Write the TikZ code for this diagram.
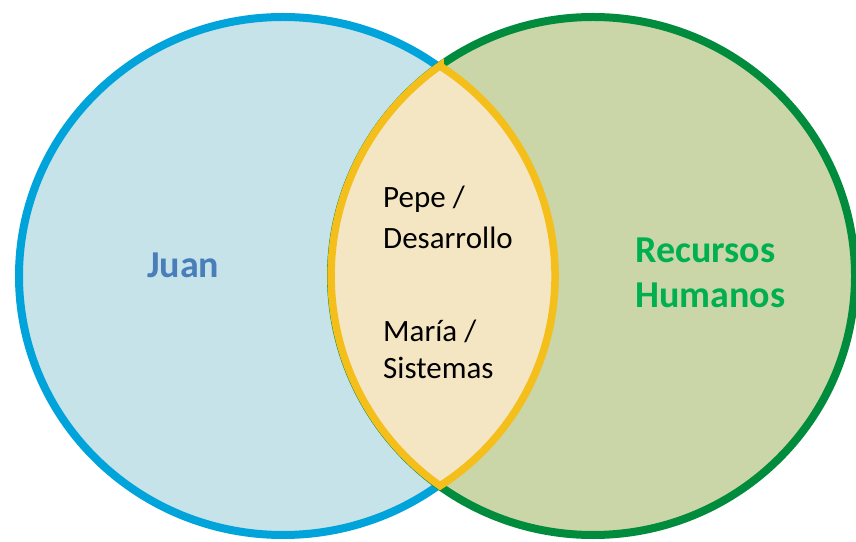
\documentclass[tikz,border=0pt]{standalone}
\usepackage{fontspec}
\setmainfont{Carlito}
\definecolor{bluestroke}{HTML}{00A3DA}
\definecolor{bluefill}{HTML}{C5E3E8}
\definecolor{greenstroke}{HTML}{008C3C}
\definecolor{greenfill}{HTML}{CAD6A8}
\definecolor{yellowstroke}{HTML}{F4BE1B}
\definecolor{lensfill}{HTML}{F5E6C3}
\definecolor{juancol}{HTML}{4A7EBB}
\definecolor{rhcol}{HTML}{00B050}
\tikzset{
  setlabel/.style={inner sep=0pt, anchor=base west, font=\fontsize{38}{45}\selectfont\bfseries},
  itemlabel/.style={inner sep=0pt, anchor=base west, font=\fontsize{31}{41}\selectfont, text=black},
}
\begin{document}
\begin{tikzpicture}[x=1pt,y=1pt]
\useasboundingbox (0,0) rectangle (856,541);
% left set
\draw[line width=8pt, draw=bluestroke, fill=bluefill] (283,265) ellipse [x radius=264, y radius=259];
% right set
\draw[line width=8pt, draw=greenstroke, fill=greenfill] (593,265) ellipse [x radius=262, y radius=259];
% intersection lens
\draw[line width=7.5pt, draw=yellowstroke, fill=lensfill, line join=miter]
  (440,475) arc[start angle=57.46, end angle=-57.46, radius=249]
  arc[start angle=234.82, end angle=125.18, radius=257] -- cycle;
% labels
\node[setlabel, text=juancol] (juan) at (147,263) {Juan};
\node[setlabel, text=rhcol] (rh1) at (635,278) {Recursos};
\node[setlabel, text=rhcol] (rh2) at (635,233) {Humanos};
\node[itemlabel] (pepe) at (383,333) {Pepe /};
\node[itemlabel] (desa) at (383,292) {Desarrollo};
\node[itemlabel] (maria) at (383,199) {María /};
\node[itemlabel] (sist) at (383,163) {Sistemas};
\end{tikzpicture}
\end{document}
